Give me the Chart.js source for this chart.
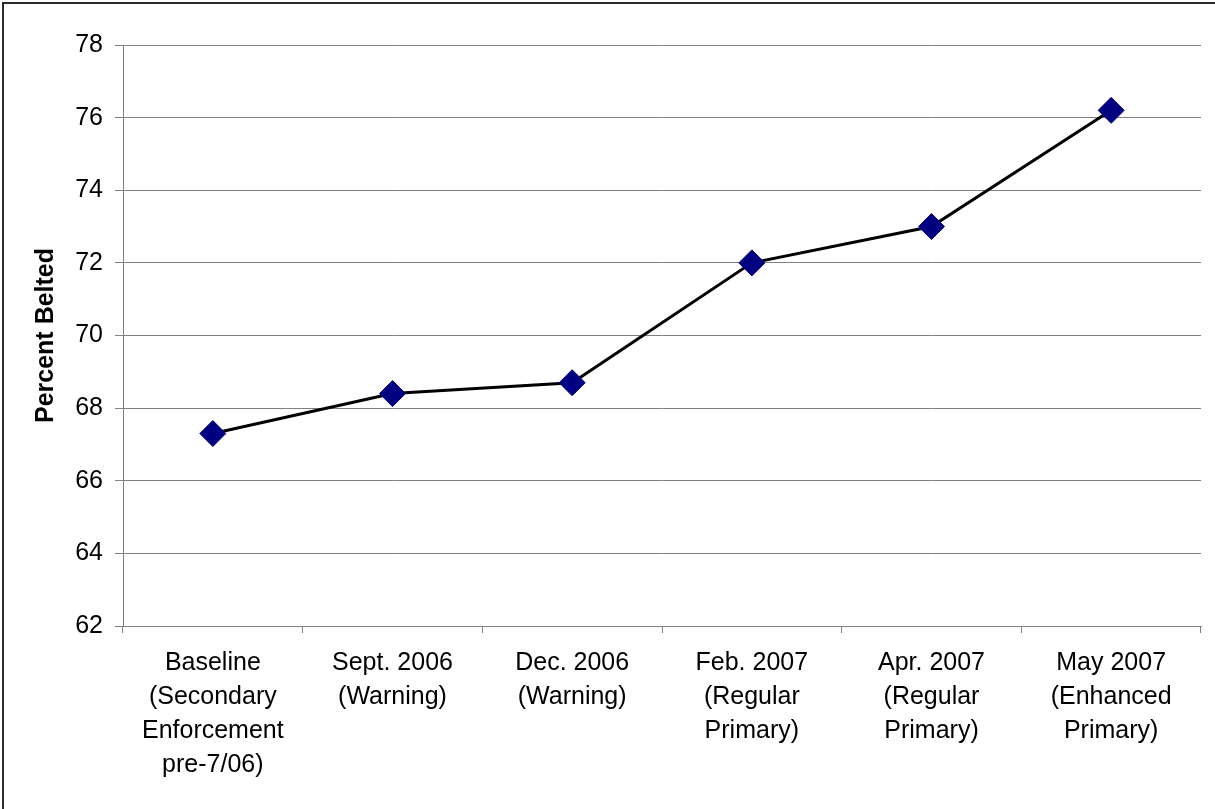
<!DOCTYPE html>
<html>
<head>
<meta charset="utf-8">
<script src="https://cdn.jsdelivr.net/npm/chart.js@4/dist/chart.umd.min.js"></script>
<style>
  html, body { margin: 0; padding: 0; background: #ffffff; }
  #wrap { width: 1215px; height: 809px; }
</style>
</head>
<body>
<div id="wrap"><canvas id="c" width="1215" height="809"></canvas></div>
<script>
// Observation periods (multi-line category labels)
const periods = [
  ['Baseline', '(Secondary', 'Enforcement', 'pre-7/06)'],
  ['Sept. 2006', '(Warning)'],
  ['Dec. 2006', '(Warning)'],
  ['Feb. 2007', '(Regular', 'Primary)'],
  ['Apr. 2007', '(Regular', 'Primary)'],
  ['May 2007', '(Enhanced', 'Primary)']
];
// Observed belt use, percent
const percentBelted = [67.3, 68.4, 68.7, 72.0, 73.0, 76.2];
// Value axis range
const yMin = 62;
const yMax = 78;
const yStep = 2;
const yTitle = 'Percent Belted';

const FONT = '"Liberation Sans", Arial, Helvetica, sans-serif';

// Thin frame around the whole figure (left/top edges visible)
const framePlugin = {
  id: 'frame',
  afterDraw(chart) {
    const ctx = chart.ctx;
    ctx.save();
    ctx.strokeStyle = '#2b2b2b';
    ctx.lineWidth = 2;
    ctx.beginPath();
    ctx.moveTo(3, 809);
    ctx.lineTo(3, 3);
    ctx.lineTo(1215, 3);
    ctx.stroke();
    ctx.restore();
  }
};

new Chart(document.getElementById('c'), {
  type: 'line',
  data: {
    labels: periods,
    datasets: [{
      data: percentBelted,
      borderColor: '#000000',
      borderWidth: 3,
      pointStyle: 'rectRot',
      pointRadius: 13,
      pointHoverRadius: 13,
      pointBackgroundColor: '#000080',
      pointBorderColor: '#000080',
      pointBorderWidth: 1,
      tension: 0,
      fill: false
    }]
  },
  options: {
    responsive: false,
    animation: false,
    events: [],
    layout: { padding: { left: 20, top: 45, right: 14, bottom: 10 } },
    plugins: {
      legend: { display: false },
      tooltip: { enabled: false }
    },
    scales: {
      x: {
        offset: true,
        grid: {
          offset: true,
          drawOnChartArea: false,
          drawTicks: true,
          tickLength: 7,
          color: '#808080',
          lineWidth: 1
        },
        border: { color: '#808080', width: 1 },
        ticks: {
          color: '#000000',
          font: { family: FONT, size: 25, lineHeight: 1.36 },
          padding: 13,
          maxRotation: 0,
          autoSkip: false
        },
        afterFit(scale) { scale.height = 809 - 10 - 626; }
      },
      y: {
        min: yMin,
        max: yMax,
        grid: {
          color: '#808080',
          lineWidth: 1,
          drawTicks: true,
          tickLength: 8
        },
        border: { color: '#808080', width: 1 },
        ticks: {
          stepSize: yStep,
          color: '#000000',
          font: { family: FONT, size: 25 },
          padding: 12
        },
        title: {
          display: true,
          text: yTitle,
          color: '#000000',
          font: { family: FONT, size: 25, weight: 'bold', lineHeight: 1.2 },
          padding: { top: 11, bottom: 0 }
        },
        afterFit(scale) { scale.width = 123 - 20; }
      }
    }
  },
  plugins: [framePlugin]
});
</script>
</body>
</html>
